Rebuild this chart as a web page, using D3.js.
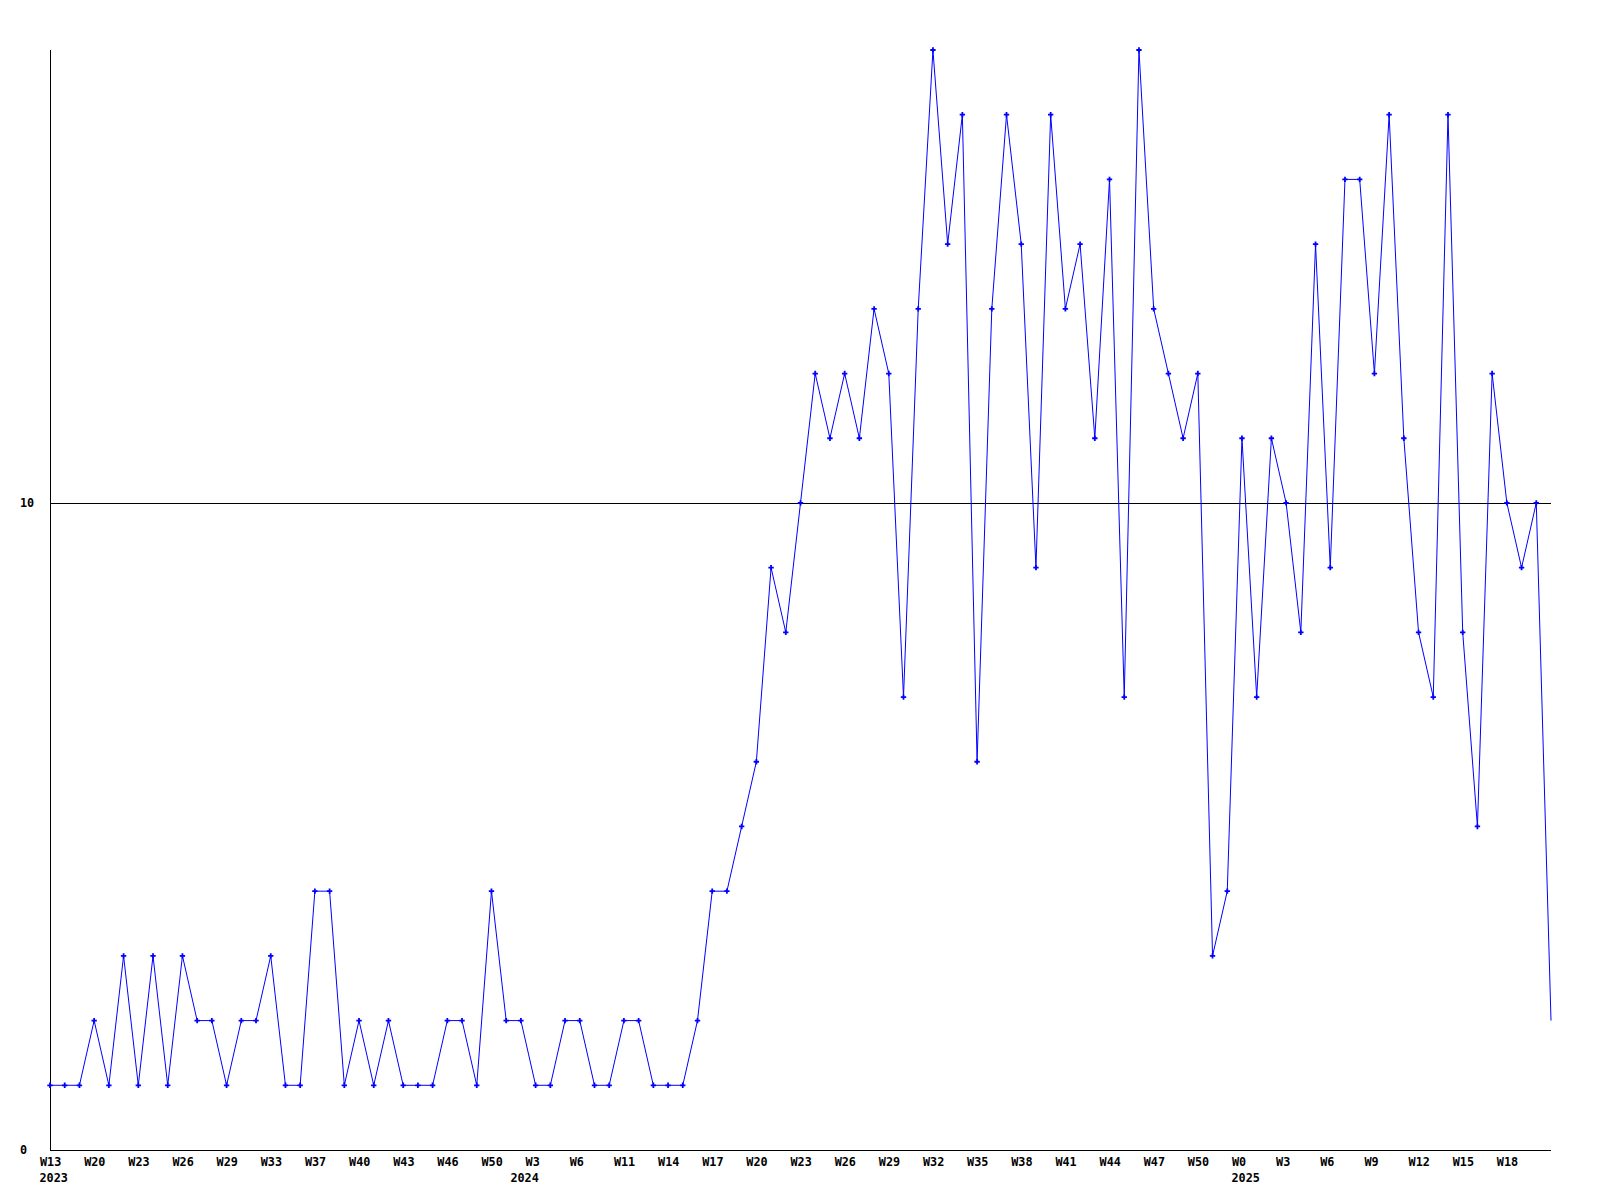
<!DOCTYPE html>
<html>
<head>
<meta charset="utf-8">
<script src="https://cdn.jsdelivr.net/npm/d3@7"></script>
<style>
  html, body { margin: 0; padding: 0; background: #ffffff; }
  svg { display: block; }
  text { font-family: "DejaVu Sans Mono", "Liberation Mono", monospace; font-weight: bold; font-size: 11.8px; fill: #000; }
</style>
</head>
<body>
<svg id="chart" width="1600" height="1200"></svg>
<script>
// ---- data ----
const values = [
  1,1,1,2,1,3,1,3,1,3,
  2,2,1,2,2,3,1,1,4,4,
  1,2,1,2,1,1,1,2,2,1,
  4,2,2,1,1,2,2,1,1,2,
  2,1,1,1,2,4,4,5,6,9,
  8,10,12,11,12,11,13,12,7,13,
  17,14,16,6,13,16,14,9,16,13,
  14,11,15,7,17,13,12,11,12,3,
  4,11,7,11,10,8,14,9,15,15,
  12,16,11,8,7,16,8,5,12,10,
  9,10,2
];
const categories = values.map((d, i) => i);
const weekTickLabels = ["W13","W20","W23","W26","W29","W33","W37","W40","W43","W46","W50",
  "W3","W6","W11","W14","W17","W20","W23","W26","W29","W32","W35","W38","W41","W44","W47","W50",
  "W0","W3","W6","W9","W12","W15","W18"];
const weekTickIndex = weekTickLabels.map((d, i) => i * 3);
const yearLabels = ["2023","2024","2025"];
const yearIndex = [0, 32, 81];
const yTickValues = [0, 10];
const yMax = 17;

// ---- layout ----
const svg = d3.select("#chart");
const mLeft = 50, mRight = 1551, mTop = 50, mBottom = 1150;

const x = d3.scalePoint().domain(categories).range([mLeft, mRight]);
const y = d3.scaleLinear().domain([0, yMax]).range([mBottom, mTop]);

// gridline at 10
svg.append("g").selectAll("line").data(yTickValues.filter(v => v > 0)).join("line")
  .attr("x1", mLeft).attr("x2", mRight)
  .attr("y1", d => Math.round(y(d)) + 0.5).attr("y2", d => Math.round(y(d)) + 0.5)
  .attr("stroke", "#000").attr("stroke-width", 1).attr("shape-rendering", "crispEdges");

// axes lines
svg.append("line").attr("x1", mLeft + 0.5).attr("x2", mLeft + 0.5).attr("y1", mTop).attr("y2", mBottom + 0.5)
  .attr("stroke", "#000").attr("shape-rendering", "crispEdges");
svg.append("line").attr("x1", mLeft).attr("x2", mRight).attr("y1", mBottom + 0.5).attr("y2", mBottom + 0.5)
  .attr("stroke", "#000").attr("shape-rendering", "crispEdges");

// y axis labels
const yAxis = d3.axisLeft(y).tickValues(yTickValues).tickSize(0).tickFormat(d3.format("d"));
const gy = svg.append("g").attr("transform", `translate(${mLeft},0)`).call(yAxis);
gy.select(".domain").remove();
gy.selectAll("text").attr("x", 20 - mLeft).attr("dy", "0.32em").attr("text-anchor", "start")
  .style("font-family", "DejaVu Sans Mono").style("font-weight", "bold").style("font-size", "11.8px").attr("fill", "#000");

// x axis labels (weeks)
const xAxis = d3.axisBottom(x).tickValues(weekTickIndex).tickSize(0)
  .tickFormat((d) => weekTickLabels[weekTickIndex.indexOf(d)]);
const gx = svg.append("g").attr("transform", `translate(0,${mBottom})`).call(xAxis);
gx.select(".domain").remove();
gx.selectAll("text").attr("x", -10.5).attr("y", 16).attr("dy", 0).attr("text-anchor", "start")
  .style("font-family", "DejaVu Sans Mono").style("font-weight", "bold").style("font-size", "11.8px").attr("fill", "#000");

// year labels
svg.append("g").selectAll("text").data(yearLabels).join("text")
  .attr("x", (d, i) => x(yearIndex[i]) - 10.5)
  .attr("y", mBottom + 32)
  .attr("text-anchor", "start")
  .text(d => d);

// line
const line = d3.line().x((d, i) => x(i)).y(d => y(d));
svg.append("path").datum(values)
  .attr("d", line)
  .attr("fill", "none").attr("stroke", "#0000ff").attr("stroke-width", 1);

// markers (all but the last, in-progress week)
const marker = d3.symbol().type(d3.symbolCross).size(16);
svg.append("g").selectAll("path").data(values.slice(0, values.length - 1)).join("path")
  .attr("transform", (d, i) => `translate(${x(i)},${y(d)})`)
  .attr("d", marker)
  .attr("fill", "#0000ff");
</script>
</body>
</html>
